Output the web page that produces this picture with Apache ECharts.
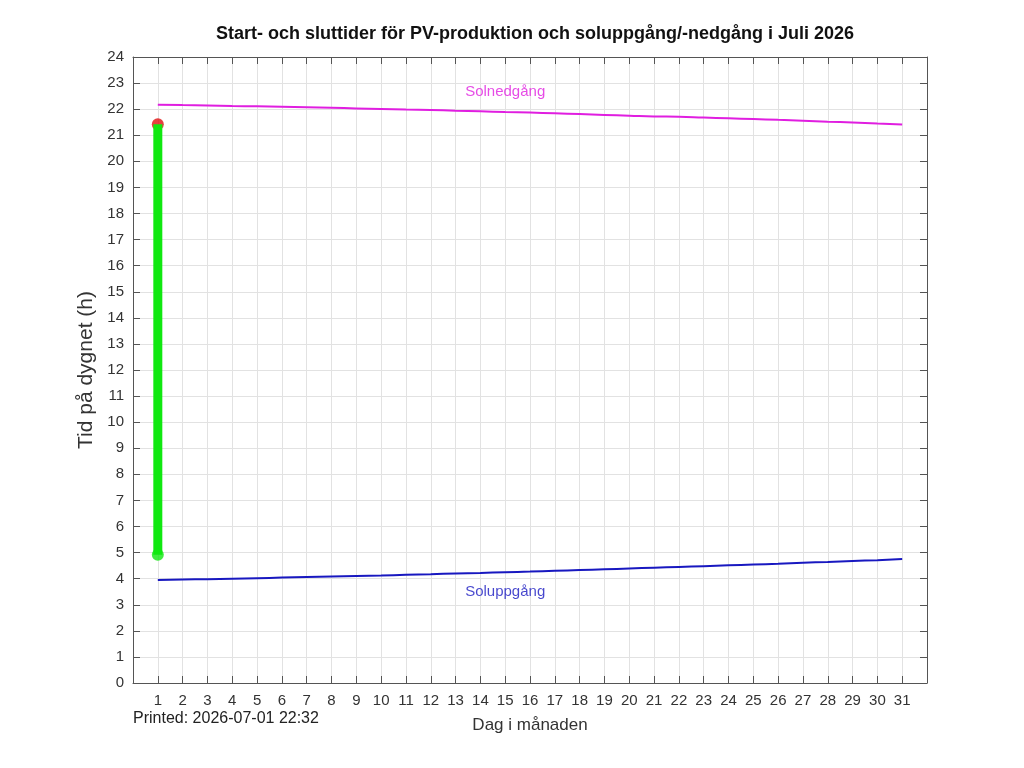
<!DOCTYPE html>
<html><head><meta charset="utf-8">
<script src="https://cdn.jsdelivr.net/npm/echarts@6/dist/echarts.min.js"></script>
<style>html,body{margin:0;padding:0;background:#fff}#c{width:1024px;height:768px}</style>
</head><body><div id="c"></div>
<script>
const days = [1,2,3,4,5,6,7,8,9,10,11,12,13,14,15,16,17,18,19,20,21,22,23,24,25,26,27,28,29,30,31];
const sunset = [22.17,22.155,22.14,22.12,22.11,22.09,22.07,22.05,22.03,22.01,21.99,21.97,21.94,21.92,21.89,21.87,21.84,21.81,21.78,21.75,21.72,21.71,21.68,21.65,21.62,21.59,21.56,21.52,21.49,21.45,21.41];
const sunrise = [3.95,3.97,3.98,4.00,4.02,4.04,4.06,4.08,4.10,4.12,4.15,4.17,4.20,4.22,4.25,4.27,4.30,4.33,4.36,4.39,4.42,4.45,4.48,4.51,4.54,4.57,4.61,4.64,4.68,4.71,4.75];
const pvDays = [1];
const pvStart = [4.92];
const pvEnd = [21.42];
const labelSunset = {text:'Solnedgång', day:15, hour:22.66};
const labelSunrise = {text:'Soluppgång', day:15, hour:3.49};
const titleText = 'Start- och sluttider för PV-produktion och soluppgång/-nedgång i Juli 2026';
const printedText = 'Printed: 2026-07-01 22:32';

const FONT = 'Liberation Sans';
const chart = echarts.init(document.getElementById('c'));
const pvLines = [];
pvDays.forEach((d,i)=>{ pvLines.push([d,pvStart[i]]); pvLines.push([d,pvEnd[i]]); pvLines.push(null); });
const mkLine = () => ({show:true, onZero:false, lineStyle:{color:'#555', width:1}});
const mkTick = () => ({show:true, inside:true, length:7, lineStyle:{color:'#555', width:1}});
chart.setOption({
  animation:false,
  textStyle:{fontFamily:FONT},
  title:{text:titleText, left:530, textAlign:'center', top:20, textStyle:{fontFamily:FONT, fontSize:18, fontWeight:'bold', color:'#111'}},
  graphic:[
    {type:'text', left:133, top:711, style:{text:printedText, font:'16px "Liberation Sans"', fill:'#222'}}
  ],
  grid:{left:133, right:97, top:57, bottom:85, show:false},
  xAxis:[
    {type:'value', min:0, max:32, interval:1, position:'bottom',
     name:'Dag i månaden', nameLocation:'middle', nameGap:34, nameTextStyle:{fontFamily:FONT, fontSize:17, color:'#333'},
     axisLine:mkLine(), axisTick:mkTick(),
     axisLabel:{fontFamily:FONT, fontSize:15, color:'#333', margin:10, formatter:v=> (v>=1&&v<=31)?String(v):''},
     splitLine:{show:true, lineStyle:{color:'#e2e2e2', width:1}}},
    {type:'value', min:0, max:32, interval:1, position:'top',
     axisLine:mkLine(), axisTick:mkTick(),
     axisLabel:{show:false}, splitLine:{show:false}}
  ],
  yAxis:[
    {type:'value', min:0, max:24, interval:1, position:'left',
     name:'Tid på dygnet (h)', nameLocation:'middle', nameGap:33, nameRotate:90, nameTextStyle:{fontFamily:FONT, fontSize:21, color:'#333'},
     axisLine:mkLine(), axisTick:mkTick(),
     axisLabel:{fontFamily:FONT, fontSize:15, color:'#333', margin:9},
     splitLine:{show:true, lineStyle:{color:'#e2e2e2', width:1}}},
    {type:'value', min:0, max:24, interval:1, position:'right',
     axisLine:mkLine(), axisTick:mkTick(),
     axisLabel:{show:false}, splitLine:{show:false}}
  ],
  series:[
    {type:'line', data:days.map((d,i)=>[d,sunset[i]]), showSymbol:false, smooth:true, lineStyle:{color:'#e01ee0', width:2}, itemStyle:{color:'#e01ee0'}, z:3},
    {type:'line', data:days.map((d,i)=>[d,sunrise[i]]), showSymbol:false, smooth:true, lineStyle:{color:'#1818c0', width:2}, itemStyle:{color:'#1818c0'}, z:3},
    {type:'scatter', data:pvDays.map((d,i)=>[d,pvEnd[i]]), symbol:'circle', symbolSize:12, itemStyle:{color:'#e01010'}, z:4},
    {type:'line', data:pvLines, connectNulls:false, showSymbol:false, lineStyle:{color:'#10e810', width:9}, itemStyle:{color:'#10e810'}, z:5},
    {type:'scatter', data:pvDays.map((d,i)=>[d,pvStart[i]]), symbol:'circle', symbolSize:12, itemStyle:{color:'#10e810'}, z:6},
    {type:'scatter', data:[[labelSunset.day,labelSunset.hour]], symbolSize:0,
     label:{show:true, position:'inside', formatter:labelSunset.text, fontFamily:FONT, fontSize:15, color:'#e01ee0'}, z:7},
    {type:'scatter', data:[[labelSunrise.day,labelSunrise.hour]], symbolSize:0,
     label:{show:true, position:'inside', formatter:labelSunrise.text, fontFamily:FONT, fontSize:15, color:'#1818c0'}, z:7}
  ]
});
</script></body></html>
